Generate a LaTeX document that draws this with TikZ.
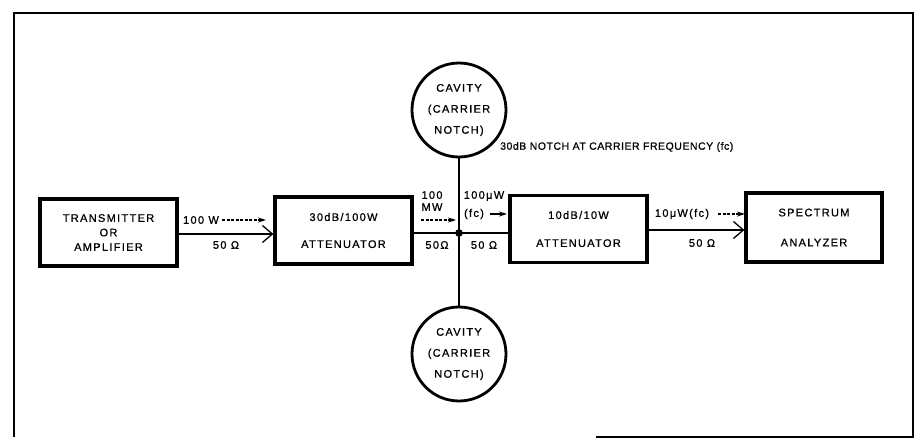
\documentclass[tikz,border=0pt]{standalone}
\usepackage{fontspec}
\setmainfont{Liberation Sans}[LetterSpace=12,FakeBold=0.8]
\newfontfamily\narrowfont{Liberation Sans}[LetterSpace=5,FakeBold=0.8]
\usetikzlibrary{arrows.meta}
\tikzset{
  blk/.style={draw, line width=3.2pt, minimum width=137pt, minimum height=67pt, align=center, inner sep=0pt},
  cav/.style={draw, circle, line width=2.8pt, minimum size=94pt, align=center, inner sep=0pt,
    font=\fontsize{11}{21}\selectfont},
  lbl/.style={inner sep=0pt, font=\fontsize{11}{12}\selectfont},
  wire/.style={line width=1.6pt},
  feed/.style={wire, -{Straight Barb[length=10pt,width=17pt,line width=1.3pt]}},
  pwr/.style={line width=1.1pt, dashed, dash pattern=on 3pt off 1.5pt, -{Stealth[length=8pt,width=5pt]}},
}
\begin{document}
\begin{tikzpicture}[x=1pt,y=-1pt]
\useasboundingbox (0,0) rectangle (919,439);
% frame
\draw[line width=1.6pt] (14,437) -- (14,13) -- (913,13) -- (913,437) -- (596,437);

% blocks
\node[blk, font=\fontsize{11}{14.5}\selectfont] (tx) at (108.5,232.5) {TRANSMITTER\\OR\\AMPLIFIER};
\node[blk, font=\fontsize{11}{27}\selectfont] (att1) at (343.5,230.5) {30dB/100W\\ATTENUATOR};
\node[blk, font=\fontsize{11}{28}\selectfont] (att2) at (578.5,229) {10dB/10W\\ATTENUATOR};
\node[blk, minimum width=136pt, minimum height=69pt, font=\fontsize{11}{30}\selectfont] (sa) at (814,227.5) {SPECTRUM\\ANALYZER};

% cavities
\node[cav] (cavt) at (459,110) {CAVITY\\(CARRIER\\NOTCH)};
\node[cav] (cavb) at (459,354) {CAVITY\\(CARRIER\\NOTCH)};

% junction
\coordinate (j) at (459,233);
\fill (j) circle (3.8pt);

% connectors
\draw[feed] (tx.east |- 0,234) -- (att1.west |- 0,234);
\draw[wire] (att1.east |- j) -- (j);
\draw[wire] (j) -- (att2.west |- j);
\draw[feed] (att2.east |- 0,230) -- (sa.west |- 0,230);
\draw[wire] (cavt.south) -- (cavb.north);

% labels
\node[lbl] (l100w) at (201,220) {100 W};
\coordinate (a1s) at (222,220); \coordinate (a1e) at (266,220);
\draw[pwr] (a1s) -- (a1e);
\node[lbl] (o1) at (226,245) {50 Ω};

\node[lbl, align=center] (l100mw) at (432,201) {100\\MW};
\coordinate (a2s) at (421,220); \coordinate (a2e) at (456,220);
\draw[pwr] (a2s) -- (a2e);
\node[lbl] (o2) at (437,245) {50Ω};
\node[lbl] (o3) at (484,245) {50 Ω};

\node[lbl] (l100uw) at (484,196) {100μW};
\node[lbl] (lfc) at (474,214) {(fc)};
\coordinate (a3s) at (490,214); \coordinate (a3e) at (507,214);
\draw[pwr, solid] (a3s) -- (a3e);

\node[lbl] (l10uw) at (682,214) {10μW(fc)};
\coordinate (a4s) at (718,214); \coordinate (a4e) at (745,214);
\draw[pwr] (a4s) -- (a4e);
\node[lbl] (o4) at (702,243) {50 Ω};

\node[lbl, anchor=west, font=\narrowfont\fontsize{10.5}{12}\selectfont] (notch) at (500,147) {30dB NOTCH AT CARRIER FREQUENCY (fc)};
\end{tikzpicture}
\end{document}
